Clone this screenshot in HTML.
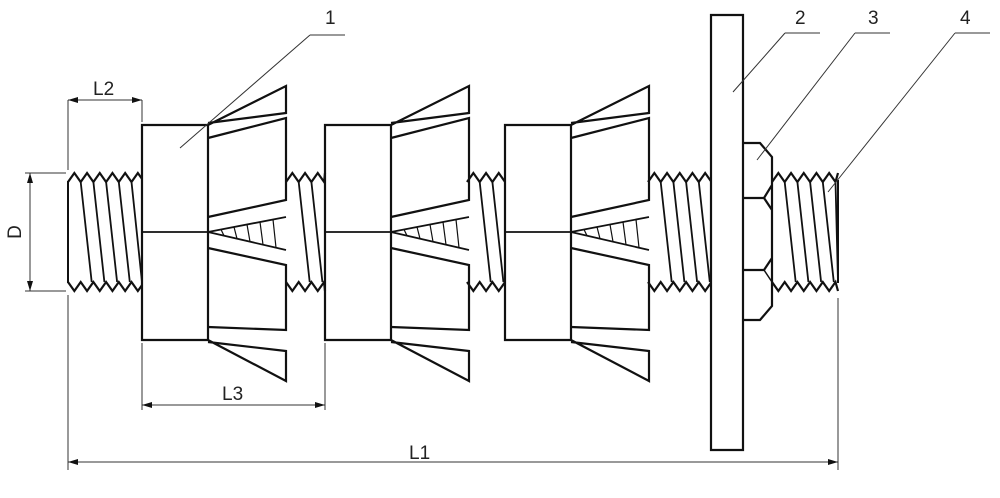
<!DOCTYPE html>
<html><head><meta charset="utf-8"><style>
html,body{margin:0;padding:0;background:#fff;width:1000px;height:498px;overflow:hidden}
svg{display:block}
text{font-family:"Liberation Sans","DejaVu Sans",sans-serif;font-size:19px;fill:#222}
</style></head><body>
<svg id="s" width="1000" height="498" viewBox="0 0 1000 498" xmlns="http://www.w3.org/2000/svg">
<g id="g" fill="none" stroke="#111" stroke-width="2.2" stroke-linejoin="miter"></g>
<g id="t" fill="none" stroke="#333" stroke-width="1"></g>
<defs><marker id="a" markerWidth="10" markerHeight="6" refX="10" refY="3" orient="auto-start-reverse" markerUnits="userSpaceOnUse"><path d="M0,0 L10,3 L0,6 z" fill="#111"/></marker></defs>
<text x="93" y="95">L2</text>
<text x="0" y="0" transform="translate(21,232) rotate(-90)" text-anchor="middle">D</text>
<text x="222" y="400">L3</text>
<text x="409" y="459">L1</text>
<text x="325" y="24">1</text>
<text x="795" y="24">2</text>
<text x="868" y="24">3</text>
<text x="960" y="24">4</text>
</svg>
<script>
var g=document.getElementById('g'),t=document.getElementById('t'),ns='http://www.w3.org/2000/svg';
function P(d,p,w){var e=document.createElementNS(ns,'path');e.setAttribute('d',d);if(w)e.setAttribute('stroke-width',w);(p||g).appendChild(e);return e;}
function thread(x0,x1){var p=12.7,top=173,bot=291,dep=9,d1='M'+x0+','+(top+dep),d2='M'+x0+','+(bot-dep),d3='';
 for(var x=x0;x<x1-0.1;x+=p){var m=Math.min(x+p/2,x1),e=Math.min(x+p,x1);
  d1+=' L'+m+','+top+' L'+e+','+(top+dep*((e-m)/(p/2)));
  d2+=' L'+m+','+bot+' L'+e+','+(bot-dep*((e-m)/(p/2)));
  if(e<x1-1)d3+='M'+e+','+(top+dep)+' L'+Math.min(e+11,x1)+','+(bot-dep)+' ';}
 P(d1);P(d2);if(d3)P(d3,null,1.8);}
thread(68,142);thread(286,325);thread(467,505);thread(648,711);thread(772,838);
P('M68,181 L68,283',null,2);P('M838,180 L838,283',null,2);
function anchor(bx){var r=bx+66,c=r+78;
 P('M'+bx+',125 H'+r+' V340 H'+bx+' Z');P('M'+bx+',232 H'+r,null,1.8);
 P('M'+r+',125 L'+c+',86 V113 L'+r+',123');
 P('M'+r+',138 L'+c+',118 V200 L'+r+',217');
 P('M'+r+',232 L'+c+',217 M'+r+',232 L'+c+',250',null,1.8);
 var d='';for(var i=1;i<6;i++){var x=r+i*13;d+='M'+x+','+(232-(x-r)*15/78)+' L'+(x+3)+','+(232+(x+3-r)*18/78)+' ';}P(d,null,1.2);
 P('M'+r+',248 L'+c+',265 V330 L'+r+',327');
 P('M'+r+',340 L'+c+',381 V351 L'+r+',342');}
anchor(142);anchor(325);anchor(505);
P('M711,15 H743 V450 H711 Z');
P('M743,143 H760 L772,157 V185 L764,198 H743 M772,185 V210 M743,198 H764 L772,210 V258 L764,270 H743 M772,258 V306 L760,320 H743');
P('M764,198 L772,185 M764,270 L772,282',null,1.5);
var T=t;
P('M68,100 V170 M142,100 V122 M25,173 H66 M25,291 H66 M142,343 V410 M325,343 V410 M68,295 V470 M838,298 V470',T);
function arr(d){var e=P(d,T);e.setAttribute('marker-start','url(#a)');e.setAttribute('marker-end','url(#a)');}
arr('M68,100 H142');arr('M30,173 V291');arr('M142,405 H325');arr('M68,462 H838');
P('M310,35 H345 M310,35 L180,148 M785,33 H820 M785,33 L733,92 M855,33 H890 M855,33 L757,160 M955,33 H990 M955,33 L828,192',T);
</script>
</body></html>
